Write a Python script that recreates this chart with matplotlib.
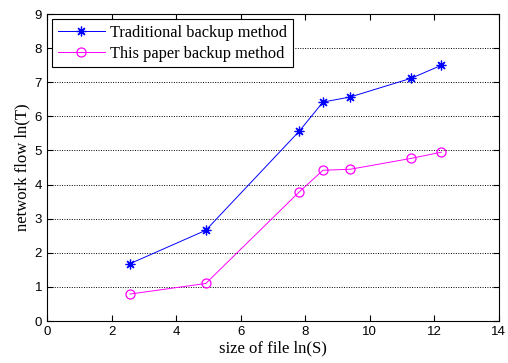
import matplotlib
matplotlib.use("Agg")
import matplotlib.pyplot as plt

# values
file_size = [2.57, 4.92, 7.82, 8.55, 9.40, 11.29, 12.22]
traditional = [1.68, 2.66, 5.57, 6.42, 6.57, 7.12, 7.50]
this_paper = [0.79, 1.10, 3.79, 4.42, 4.45, 4.77, 4.95]

fig = plt.figure(figsize=(5.08, 3.63), dpi=100)
ax = fig.add_axes([0.0925, 0.1157, 0.8895, 0.8455])

# asterisk marker like matlab's '*'
ax.plot(file_size, traditional, color="blue", marker=(8, 2, 0), markersize=7,
        markeredgewidth=0.9, linewidth=0.7, label="Traditional backup method")
ax.plot(file_size, this_paper, color="magenta", marker="o", markersize=6.5,
        markerfacecolor="none", markeredgewidth=0.9, linewidth=0.7,
        label="This paper backup method")

ax.set_xlim(0, 14)
ax.set_ylim(0, 9)
ax.set_xticks(range(0, 15, 2))
ax.set_yticks(range(0, 10))
ax.yaxis.grid(True, linestyle=(0, (1, 1.5)), color="black", linewidth=0.7)

ax.tick_params(direction="in", top=True, right=True, labelsize=9.5,
               length=4, width=0.8)
for lab in ax.get_xticklabels() + ax.get_yticklabels():
    lab.set_fontfamily("Liberation Sans")
for sp in ax.spines.values():
    sp.set_linewidth(0.8)

ax.set_xlabel("size of file ln(S)", fontfamily="Liberation Serif",
              fontsize=12, labelpad=2)
ax.set_ylabel("network flow ln(T)", fontfamily="Liberation Serif",
              fontsize=12, labelpad=3)

leg = ax.legend(loc="upper left", prop={"family": "Liberation Serif", "size": 11.8},
                fancybox=False, edgecolor="black", framealpha=1,
                borderpad=0.35, handlelength=2.9, labelspacing=0.3,
                borderaxespad=0.3, handletextpad=0.3)
leg.get_frame().set_linewidth(0.8)

fig.savefig("out.png", dpi=100)
